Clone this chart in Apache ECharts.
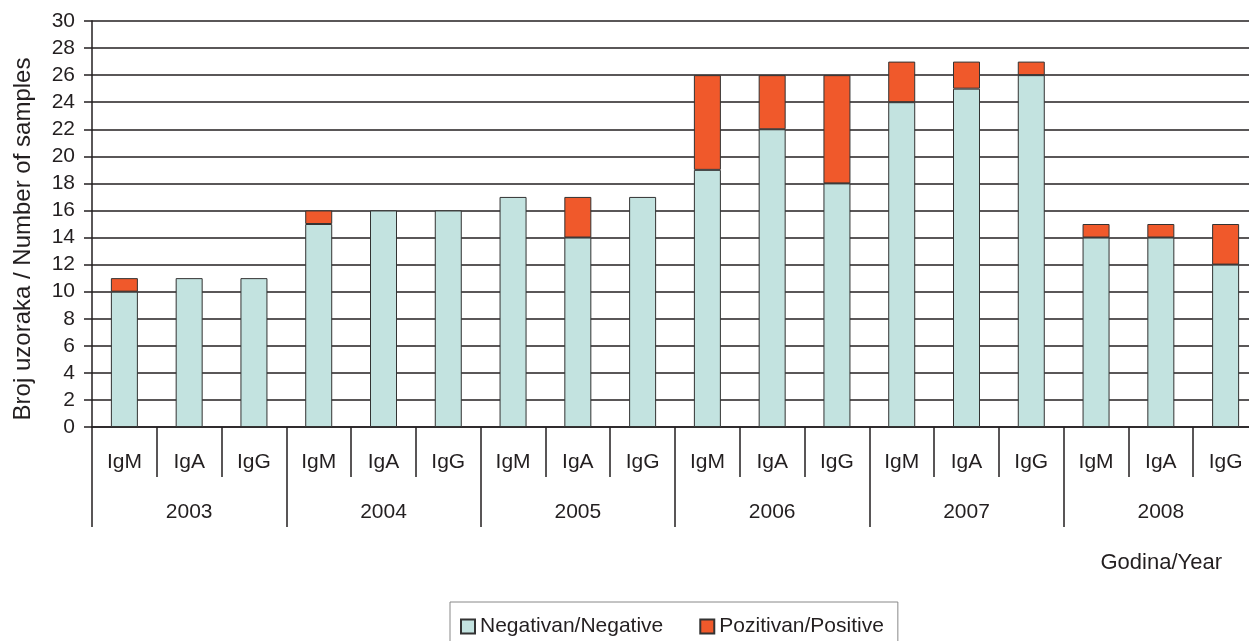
<!DOCTYPE html>
<html><head><meta charset="utf-8">
<script src="https://cdn.jsdelivr.net/npm/echarts@6/dist/echarts.min.js"></script>
<style>html,body{margin:0;padding:0;background:#fff;overflow:hidden}#c{width:1258px;height:641px}</style>
</head><body><div id="c"></div>
<script>
var years = ['2003','2004','2005','2006','2007','2008'];
var types = ['IgM','IgA','IgG'];
var negative = [10,11,11, 15,16,16, 17,14,17, 19,22,18, 24,25,26, 14,14,12];
var positive = [1,0,0, 1,0,0, 0,3,0, 7,4,8, 3,2,1, 1,1,3];
var yTicks = {min:0, max:30, interval:2};

var cats = [];
years.forEach(function(y){ types.forEach(function(t){ cats.push(t); }); });

var font = 'Liberation Sans, Arial, sans-serif';
var ink = '#231f20';
var chart = echarts.init(document.getElementById('c'));
chart.setOption({
  animation:false,
  textStyle:{fontFamily:font},
  grid:{left:92, right:0, top:21, bottom:214, containLabel:false},
  legend:{
    top:602, left:450, itemWidth:14, itemHeight:14, itemGap:36,
    borderColor:'#888', borderWidth:1, padding:[14,14,20,10],
    textStyle:{fontSize:21, color:ink, fontFamily:font},
    data:[{name:'Negativan/Negative', icon:'rect'},{name:'Pozitivan/Positive', icon:'rect'}]
  },
  xAxis:[{
    type:'category', data:cats, position:'bottom',
    axisLine:{lineStyle:{color:ink, width:1.5}},
    axisTick:{show:true, interval:0, length:50, lineStyle:{color:ink, width:1.5}},
    axisLabel:{interval:0, margin:25, fontSize:21, color:ink, fontFamily:font}
  },{
    type:'category', data:years, position:'bottom',
    axisLine:{show:false},
    axisTick:{show:true, interval:0, length:100, lineStyle:{color:ink, width:1.5}},
    axisLabel:{interval:0, margin:75, fontSize:21, color:ink, fontFamily:font},
    name:'Godina/Year', nameLocation:'end', nameGap:0,
    nameTextStyle:{fontSize:22, color:ink, fontFamily:font, align:'right', verticalAlign:'top', padding:[125,36,0,0]}
  }],
  yAxis:{
    type:'value', min:yTicks.min, max:yTicks.max, interval:yTicks.interval,
    name:'Broj uzoraka / Number of samples', nameLocation:'middle', nameGap:57,
    nameTextStyle:{fontSize:24, color:ink, fontFamily:font, padding:[0,30,0,0]},
    axisLine:{show:true, lineStyle:{color:ink, width:1.5}},
    axisTick:{show:true, length:8, lineStyle:{color:ink, width:1.5}},
    axisLabel:{fontSize:21, color:ink, margin:17, fontFamily:font},
    splitLine:{lineStyle:{color:ink, width:1.5}}
  },
  series:[{
    name:'Negativan/Negative', type:'bar', stack:'s', barWidth:27, xAxisIndex:0,
    data:negative,
    itemStyle:{color:'#c3e3e0', borderColor:'#333', borderWidth:1}
  },{
    name:'Pozitivan/Positive', type:'bar', stack:'s', barWidth:27, xAxisIndex:0,
    data:positive.map(function(v){return v===0?null:v;}),
    itemStyle:{color:'#f0592b', borderColor:'#333', borderWidth:1}
  }]
});
</script></body></html>
